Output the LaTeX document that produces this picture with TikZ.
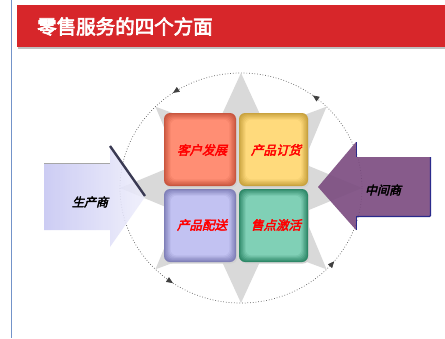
\documentclass[tikz,border=0pt]{standalone}
\usepackage{fontspec}
\usetikzlibrary{decorations.markings,arrows.meta}
\newfontfamily\cjkbold[FakeBold=3.5]{Noto Sans CJK SC}
\newfontfamily\cjkbi[FakeBold=3,FakeSlant=0.25]{Noto Sans CJK SC}
\definecolor{leftline}{HTML}{7393C9}
\definecolor{titlered}{HTML}{D7262A}
\definecolor{stargray}{HTML}{D9D9D9}
\definecolor{orM}{HTML}{FF8E74}
\definecolor{orE}{HTML}{C9563F}
\definecolor{yeM}{HTML}{FFDA7C}
\definecolor{yeE}{HTML}{C9A23E}
\definecolor{laM}{HTML}{C2C2F2}
\definecolor{laE}{HTML}{8080B8}
\definecolor{grM}{HTML}{80D0B6}
\definecolor{grE}{HTML}{2E8868}
\definecolor{lavL}{HTML}{C4C4F2}
\definecolor{lavR}{HTML}{EEEEFC}
\definecolor{purp}{HTML}{7A4A7F}
\definecolor{navy}{HTML}{2A2A8C}
\newcommand\bevbox[6]{%
  \fill[black!18, rounded corners=6pt] (#1+1.2,#2+1.5) rectangle (#3+1.2,#4+1.5);
  \foreach \i in {0,...,6}{%
    \pgfmathtruncatemacro\pp{min(100,\i*17)}%
    \fill[color=#6!\pp!#5, rounded corners=6pt] (#1+\i*1.1,#2+\i*1.1) rectangle (#3-\i*1.1,#4-\i*1.1);
  }%
}
\tikzset{
  boxtext/.style={text=red, font=\cjkbi\fontsize{12.5}{13}\selectfont, inner sep=0pt},
  arrowtext/.style={text=black, font=\cjkbi\fontsize{12}{13}\selectfont, inner sep=0pt},
  circ/.style={dotted, line width=0.7pt, color=black!65},
}
\begin{document}
\begin{tikzpicture}[x=1pt,y=-1pt]
\useasboundingbox (0,0) rectangle (445,338);
\fill[white] (0,0) rectangle (445,338);
% left line
\draw[line width=1.3pt, color=leftline] (11.5,0) -- (11.5,338);
% title bar
\fill[black!25] (18,7) rectangle (445,48.5);
\fill[titlered] (16.5,5) rectangle (445,46.5);
\node[anchor=west, text=white, font=\cjkbold\fontsize{19.5}{20}\selectfont, inner sep=0pt] (title) at (37,26.5) {零售服务的四个方面};
% star
\fill[stargray, shift={(241,188)}] (0:121 and 115)
  \foreach \k in {0,...,7}{ -- (\k*45+22.5:67 and 64) -- (\k*45+45:121 and 115) } -- cycle;
% dotted circle with arrows
\draw[circ, postaction={decorate, decoration={markings,
   mark=at position 0.108 with {\arrowreversed[solid,black!75]{Triangle[length=6.5pt,width=5.5pt]}},
   mark=at position 0.347 with {\arrowreversed[solid,black!75]{Triangle[length=6.5pt,width=5.5pt]}},
   mark=at position 0.653 with {\arrowreversed[solid,black!75]{Triangle[length=6.5pt,width=5.5pt]}},
   mark=at position 0.853 with {\arrowreversed[solid,black!75]{Triangle[length=6.5pt,width=5.5pt]}}}}]
  (241,188) ellipse [x radius=121, y radius=115];
% squares
\bevbox{164}{113}{236}{186}{orE}{orM}
\bevbox{239}{113}{308}{186}{yeE}{yeM}
\bevbox{164}{189}{236}{262}{laE}{laM}
\bevbox{239}{189}{308}{262}{grE}{grM}
\node[boxtext] (khfz) at (202,150) {客户发展};
\node[boxtext] (cpdh) at (276,150) {产品订货};
\node[boxtext] (cpps) at (202,225) {产品配送};
\node[boxtext] (sdjh) at (276,225) {售点激活};
% left arrow
\shade[left color=lavL, right color=lavR, opacity=0.85]
  (44,163) -- (110,163) -- (110,147) -- (145,197) -- (110,247) -- (110,230) -- (44,230) -- cycle;
\draw[black!35, line width=1pt] (44,163.5) -- (110,163.5);
\draw[color=black!55!laE, line width=2.4pt] (110,146) -- (145,196);
\node[arrowtext] (scs) at (90,202) {生产商};
% right arrow
\fill[purp, opacity=0.9]
  (430,157) -- (356,157) -- (356,142) -- (318,187) -- (356,230) -- (356,216) -- (430,216) -- cycle;
\draw[navy, line width=1.3pt] (356.5,142) -- (356.5,157);
\draw[navy, line width=1.3pt] (356.5,216) -- (356.5,230);
\draw[navy, line width=1.3pt, rounded corners=1pt] (430.5,157) -- (430.5,216.5) -- (357,216.5);
\node[arrowtext] (zjs) at (383,190) {中间商};
\end{tikzpicture}
\end{document}
